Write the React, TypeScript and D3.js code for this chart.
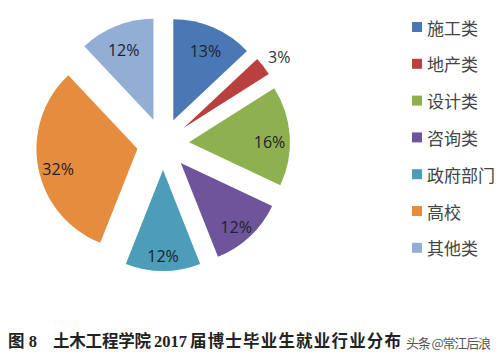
import React from "react";
import * as d3 from "d3";

const categories = ["施工类", "地产类", "设计类", "咨询类", "政府部门", "高校", "其他类"];
const values = [13, 3, 16, 12, 12, 32, 12];
const colors = ["#4A78B4", "#B8403E", "#8EB04F", "#6E549A", "#4B9DB8", "#E58C3E", "#93AED4"];
const captionFig = "图 8";
const captionParts = ["土木工程学院", "2017", "届博士毕业生就业行业分布"];
const watermark = "头条 @常江后浪";

export default function App() {
  const W = 501, H = 364;
  const cx = 163, cy = 144, R = 101, explode = 26;
  const pie = d3.pie<number>().sort(null).value((d) => d).startAngle(0).endAngle(2 * Math.PI);
  const arcs = pie(values);
  const arc = d3.arc<d3.PieArcDatum<number>>().innerRadius(0).outerRadius(R);
  const capFont = "'Liberation Serif', 'Noto Sans CJK SC', serif";

  return (
    <svg width={W} height={H} style={{ position: "absolute", left: 0, top: 0, background: "#fff" }}>
      <rect x={0} y={0} width={W} height={H} fill="#fff" />
      <g transform={`translate(${cx},${cy})`}>
        {arcs.map((a, i) => {
          const mid = (a.startAngle + a.endAngle) / 2;
          const ox = Math.sin(mid) * explode;
          const oy = -Math.cos(mid) * explode;
          const small = values[i] < 5;
          const lr = small ? R * 1.2 : R * 0.8;
          const lx = Math.sin(mid) * lr;
          const ly = -Math.cos(mid) * lr + (small ? 3 : 5);
          return (
            <g key={i} transform={`translate(${ox},${oy})`}>
              <path d={arc(a) || ""} fill={colors[i]} />
              <text
                x={lx}
                y={ly}
                textAnchor="middle"
                dominantBaseline="central"
                fontFamily="'Open Sans', 'Noto Sans', sans-serif"
                fontSize={16}
                fill={small ? "#333" : "#1c2230"}
              >
                {values[i]}%
              </text>
            </g>
          );
        })}
      </g>
      <g>
        {categories.map((c, i) => {
          const y = 27 + i * 36.8;
          return (
            <g key={c}>
              <rect x={412} y={y - 5} width={10} height={10} fill={colors[i]} />
              <text
                x={427}
                y={y}
                dominantBaseline="central"
                fontFamily="'Noto Sans CJK SC', sans-serif"
                fontSize={17}
                fill="#444"
              >
                {c}
              </text>
            </g>
          );
        })}
      </g>
      <text x={8} y={341} dominantBaseline="central" fontFamily={capFont} fontWeight={700} fontSize={16.5} fill="#222">
        {captionFig}
      </text>
      <text x={53} y={341} dominantBaseline="central" fontFamily={capFont} fontWeight={700} fontSize={16.5} fill="#222" textLength={98} lengthAdjust="spacing">
        {captionParts[0]}
      </text>
      <text x={154} y={341} dominantBaseline="central" fontFamily={capFont} fontWeight={700} fontSize={16.5} fill="#222">
        {captionParts[1]}
      </text>
      <text x={190} y={341} dominantBaseline="central" fontFamily={capFont} fontWeight={700} fontSize={16.5} fill="#222" textLength={211} lengthAdjust="spacing">
        {captionParts[2]}
      </text>
      <text x={406} y={342} dominantBaseline="central" fontFamily="'Noto Sans CJK SC', sans-serif" fontSize={13} fill="#555" textLength={85} lengthAdjust="spacing">
        {watermark}
      </text>
    </svg>
  );
}
